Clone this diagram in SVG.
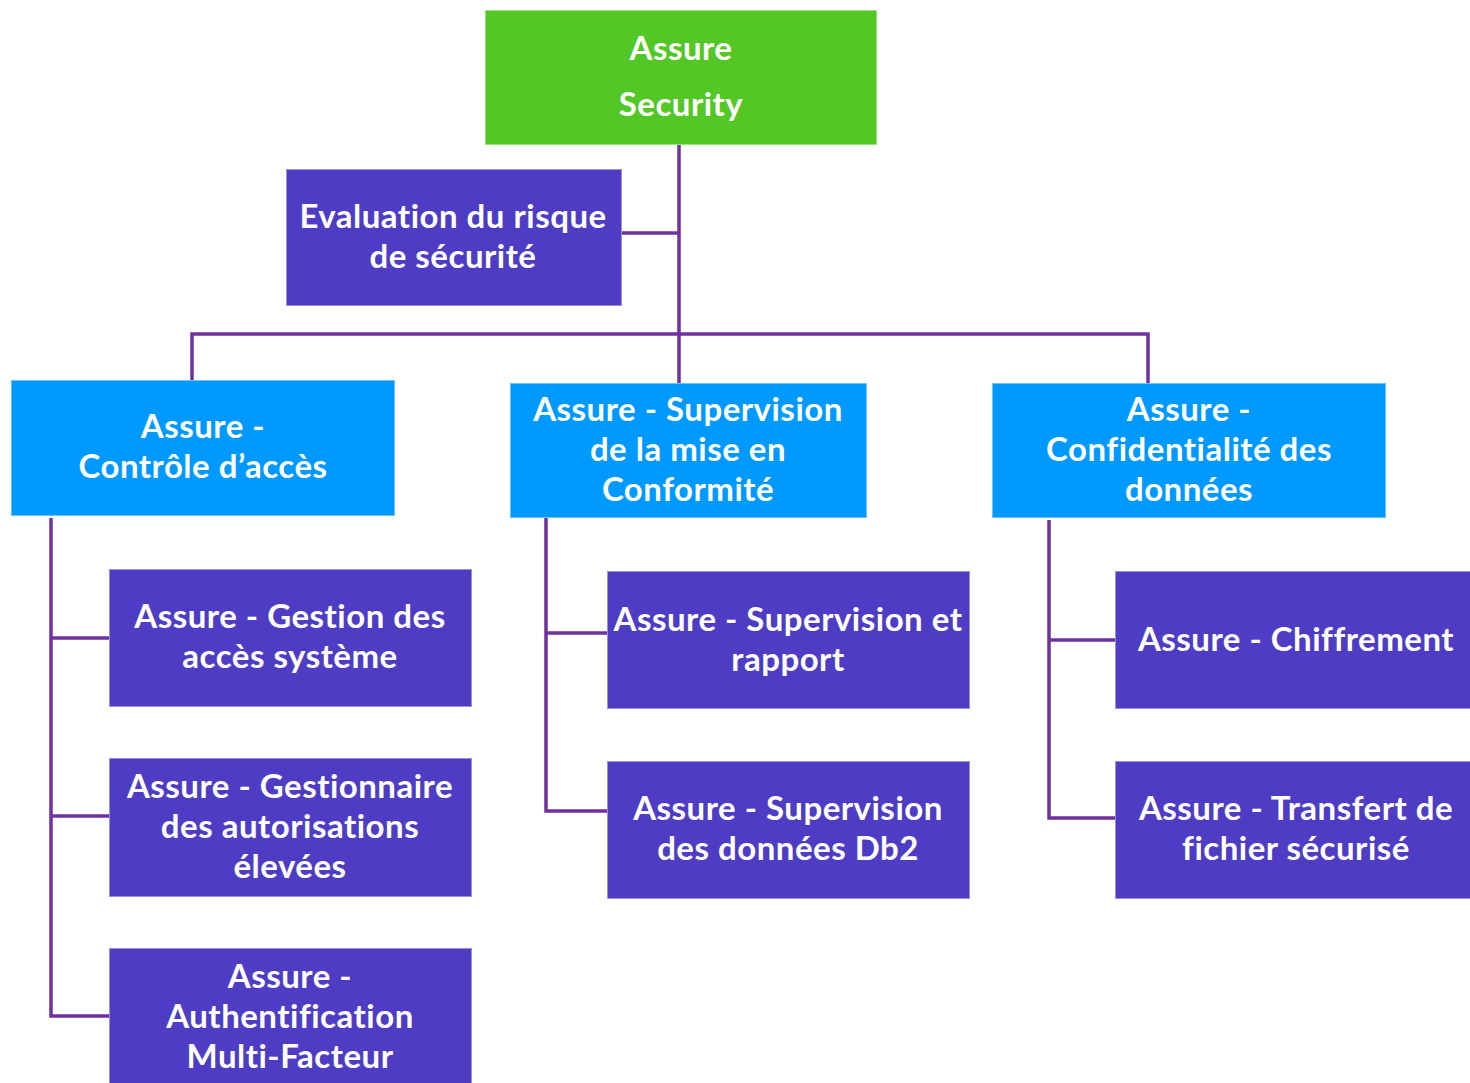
<svg xmlns="http://www.w3.org/2000/svg" width="1470" height="1083" viewBox="0 0 1470 1083">
<style>
.root{fill:#52C725;stroke:#9BE07F;stroke-width:1}
.l2{fill:#0099FF;stroke:#6CC3FF;stroke-width:1}
.l3{fill:#4E3DC4;stroke:#9A90E0;stroke-width:1}
text{font-family:Lato,"Open Sans","Liberation Sans",sans-serif;font-weight:bold;font-size:33px;letter-spacing:0.5px;font-variant-ligatures:none;fill:#FFFFFF;text-anchor:middle}
.conn line,.conn polyline{stroke:#7030A0;stroke-width:3.5;fill:none}
</style>
<g class="conn" id="connectors">
<line x1="679" y1="145" x2="679" y2="383"/>
<line x1="621" y1="233" x2="679" y2="233"/>
<polyline points="192,381 192,334 1148,334 1148,383"/>
<polyline points="51,518 51,1016 118,1016"/>
<line x1="51" y1="638" x2="120" y2="638"/>
<line x1="51" y1="816" x2="118" y2="816"/>
<polyline points="546,517 546,811 612,811"/>
<line x1="546" y1="633" x2="615" y2="633"/>
<polyline points="1049,520 1049,818 1115,818"/>
<line x1="1049" y1="640" x2="1117" y2="640"/>
</g>
<g id="root">
<rect class="root" x="485.5" y="10.5" width="391" height="134"/>
<text x="681" y="60">Assure</text>
<text x="681" y="116">Security</text>
</g>
<g id="eval">
<rect class="l3" x="286.5" y="169.5" width="335" height="136"/>
<text x="453" y="228">Evaluation du risque</text>
<text x="453" y="268">de sécurité</text>
</g>
<g id="ctrl">
<rect class="l2" x="11.5" y="380.5" width="383" height="135"/>
<text x="203" y="438">Assure -</text>
<text x="203" y="478">Contrôle d’accès</text>
</g>
<g id="conf">
<rect class="l2" x="510.5" y="383.5" width="356" height="134"/>
<text x="688" y="421">Assure - Supervision</text>
<text x="688" y="461">de la mise en</text>
<text x="688" y="501">Conformité</text>
</g>
<g id="confid">
<rect class="l2" x="992.5" y="383.5" width="393" height="134"/>
<text x="1189" y="421">Assure -</text>
<text x="1189" y="461">Confidentialité des</text>
<text x="1189" y="501">données</text>
</g>
<g id="gestion">
<rect class="l3" x="109.5" y="569.5" width="362" height="137"/>
<text x="290" y="628">Assure - Gestion des</text>
<text x="290" y="668">accès système</text>
</g>
<g id="gestionnaire">
<rect class="l3" x="109.5" y="758.5" width="362" height="138"/>
<text x="290" y="798">Assure - Gestionnaire</text>
<text x="290" y="838">des autorisations</text>
<text x="290" y="878">élevées</text>
</g>
<g id="mfa">
<rect class="l3" x="109.5" y="948.5" width="362" height="140"/>
<text x="290" y="988">Assure -</text>
<text x="290" y="1028">Authentification</text>
<text x="290" y="1068">Multi-Facteur</text>
</g>
<g id="superv">
<rect class="l3" x="607.5" y="571.5" width="362" height="137"/>
<text x="788" y="631">Assure - Supervision et</text>
<text x="788" y="671">rapport</text>
</g>
<g id="db2">
<rect class="l3" x="607.5" y="761.5" width="362" height="137"/>
<text x="788" y="820">Assure - Supervision</text>
<text x="788" y="860">des données Db2</text>
</g>
<g id="chiff">
<rect class="l3" x="1115.5" y="571.5" width="360" height="137"/>
<text x="1296" y="651">Assure - Chiffrement</text>
</g>
<g id="transfert">
<rect class="l3" x="1115.5" y="761.5" width="360" height="137"/>
<text x="1296" y="820">Assure - Transfert de</text>
<text x="1296" y="860">fichier sécurisé</text>
</g>
</svg>
